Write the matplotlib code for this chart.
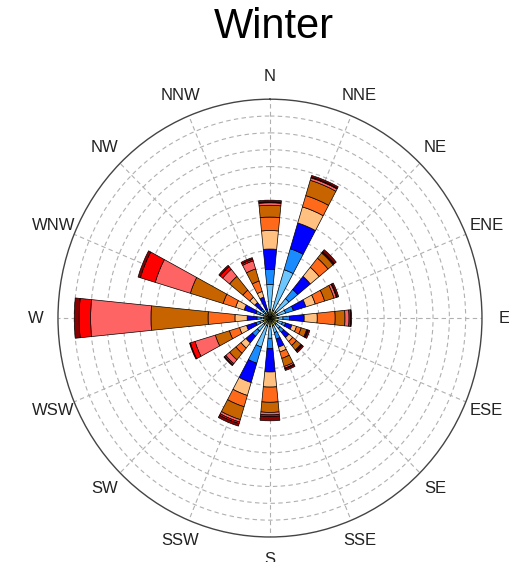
import numpy as np
import matplotlib
matplotlib.use('Agg')
import matplotlib.pyplot as plt

plt.rcParams['font.family'] = ['Liberation Sans', 'DejaVu Sans']

directions = ['N', 'NNE', 'NE', 'ENE', 'E', 'ESE', 'SE', 'SSE',
              'S', 'SSW', 'SW', 'WSW', 'W', 'WNW', 'NW', 'NNW']

# frequency per speed class, one value per direction (N clockwise)
bin1 = [0.5, 0.5, 0.5, 0.5, 0.5, 0.5, 0.5, 0.5, 0.5, 0.5, 0.5, 0.45, 0.4, 0.45, 0.4, 0.35]
bin2 = [1.5, 2.5, 1.0, 0.5, 0.3, 0.3, 0.3, 0.4, 0.7, 1.3, 0.5, 0.2, 0.15, 0.2, 0.15, 0.1]
bin3 = [0.9, 1.3, 0.7, 0.5, 0.4, 0.2, 0.3, 0.4, 0.6, 1.0, 0.4, 0.25, 0.25, 0.25, 0.15, 0.1]
bin4 = [1.2, 1.6, 1.0, 0.8, 0.9, 0.4, 0.4, 0.5, 1.4, 1.2, 0.5, 0.6, 0.6, 0.75, 0.5, 0.75]
bin5 = [1.1, 1.0, 0.7, 0.6, 0.8, 0.3, 0.3, 0.3, 0.9, 0.8, 0.4, 0.45, 0.75, 0.55, 0.4, 0.35]
bin6 = [0.8, 0.7, 0.7, 0.6, 1.1, 0.3, 0.3, 0.4, 0.9, 0.7, 0.4, 0.65, 1.65, 0.8, 0.55, 0.65]
bin7 = [0.7, 0.95, 0.4, 0.6, 0.6, 0.35, 0.35, 0.5, 0.6, 0.8, 0.5, 0.9, 3.5, 2.1, 1.05, 0.75]
bin8 = [0.15, 0.15, 0.05, 0.15, 0.25, 0.05, 0.05, 0.1, 0.15, 0.15, 0.3, 1.3, 3.7, 2.25, 0.55, 0.5]
bin9 = [0.05, 0.05, 0.05, 0.05, 0.1, 0.05, 0.05, 0.05, 0.1, 0.1, 0.1, 0.3, 0.7, 0.95, 0.2, 0.1]
bin10 = [0.1, 0.1, 0.15, 0.1, 0.05, 0.1, 0.1, 0.1, 0.25, 0.15, 0.05, 0.05, 0.3, 0.15, 0.1, 0.1]

bins = [bin1, bin2, bin3, bin4, bin5, bin6, bin7, bin8, bin9, bin10]
colors = ['#8c8c00', '#6ec6ff', '#1a8cff', '#0000ff', '#ffc080',
          '#ff6a1a', '#c86400', '#ff6464', '#ff0000', '#8b0000']

fig = plt.figure(figsize=(5.09, 5.62), dpi=100)
ax = fig.add_axes([0.1139, 0.0445, 0.833, 0.779], projection='polar')
ax.set_aspect('auto')
ax.set_theta_zero_location('N')
ax.set_theta_direction(-1)

theta = np.deg2rad(np.arange(16) * 22.5)
bottom = np.zeros(16)
for vals, c in zip(bins, colors):
    ax.bar(theta, vals, width=0.2, bottom=bottom, color=c,
           edgecolor='black', linewidth=0.5, zorder=3)
    bottom = bottom + np.array(vals)

ax.set_ylim(0, 13)
ax.set_yticks(np.arange(1, 13))
ax.set_yticklabels([])
ax.set_xticks(theta)
ax.set_xticklabels(directions, fontsize=12, color='#222222')
ax.set_xticks(theta + np.deg2rad(11.25), minor=True)
ax.tick_params(axis='x', which='major', direction='in', length=8, pad=9,
               color='#333333', width=1)
ax.tick_params(axis='x', which='minor', direction='in', length=4,
               color='#555555', width=0.8)
ax.tick_params(axis='y', length=0)
ax.grid(True, which='major', color='#b0b0b0', linestyle=(0, (4, 3)), linewidth=0.8)
ax.spines['polar'].set_color('#444444')
ax.spines['polar'].set_linewidth(1.0)

fig.text(0.538, 0.952, 'Winter', ha='center', va='center', fontsize=30)

fig.savefig('out.png', dpi=100)
